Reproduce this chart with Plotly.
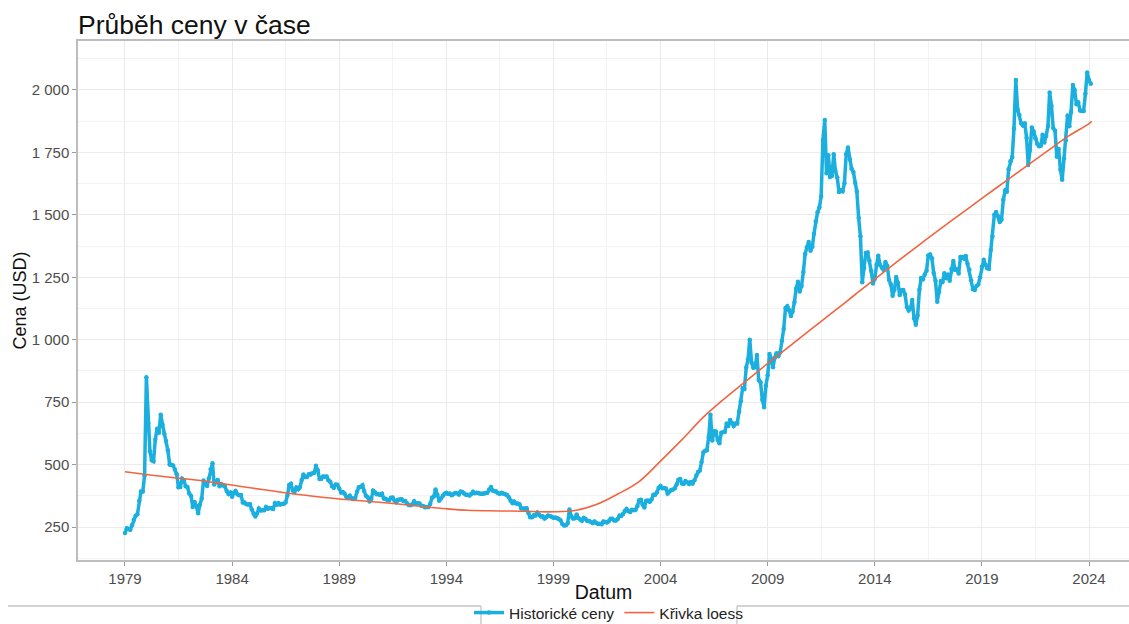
import pandas as pd
import plotly.graph_objects as go

# Monthly gold prices (USD), Jan 1979 .. Feb 2024
ceny = [
    226, 245, 242, 239, 257, 279, 295, 301, 355, 392, 392, 456,   # 1979
    850, 665, 553, 517, 513, 600, 644, 627, 700, 661, 623, 594,   # 1980
    557, 500, 499, 496, 480, 461, 409, 410, 443, 437, 413, 410,   # 1981
    384, 374, 330, 350, 334, 305, 339, 364, 436, 422, 414, 444,   # 1982
    481, 505, 420, 432, 438, 413, 422, 416, 412, 394, 382, 388,   # 1983
    371, 387, 394, 381, 377, 378, 348, 348, 341, 340, 341, 320,   # 1984
    303, 292, 304, 324, 316, 317, 317, 330, 323, 326, 325, 322,   # 1985
    345, 339, 346, 340, 342, 343, 348, 376, 418, 423, 396, 391,   # 1986
    408, 401, 409, 438, 460, 450, 450, 461, 460, 465, 467, 495,   # 1987
    477, 442, 443, 452, 451, 452, 437, 431, 413, 407, 420, 419,   # 1988
    404, 388, 390, 384, 371, 367, 375, 365, 362, 367, 392, 409,   # 1989
    410, 417, 394, 375, 369, 352, 362, 395, 389, 381, 381, 378,   # 1990
    383, 364, 363, 358, 357, 367, 368, 356, 349, 359, 360, 361,   # 1991
    354, 354, 345, 338, 337, 341, 353, 343, 345, 344, 335, 334,   # 1992
    329, 330, 330, 342, 367, 372, 400, 379, 355, 364, 374, 383,   # 1993
    387, 382, 384, 377, 381, 386, 385, 380, 392, 390, 384, 379,   # 1994
    379, 376, 382, 391, 385, 387, 386, 383, 383, 383, 386, 387,   # 1995
    400, 410, 396, 393, 392, 385, 383, 387, 383, 381, 378, 369,   # 1996
    355, 346, 352, 344, 344, 341, 324, 324, 323, 325, 306, 289,   # 1997
    289, 297, 296, 308, 299, 292, 293, 284, 289, 296, 294, 291,   # 1998
    287, 288, 286, 282, 277, 262, 256, 257, 265, 320, 293, 284,   # 1999
    285, 300, 286, 280, 275, 286, 282, 274, 274, 270, 266, 272,   # 2000
    266, 262, 263, 261, 272, 270, 268, 273, 283, 283, 276, 276,   # 2001
    282, 296, 294, 302, 314, 322, 314, 310, 319, 317, 319, 333,   # 2002
    357, 359, 340, 328, 355, 356, 351, 360, 379, 379, 389, 407,   # 2003
    414, 405, 406, 404, 384, 392, 398, 400, 405, 420, 439, 442,   # 2004
    424, 423, 434, 429, 422, 430, 424, 437, 456, 470, 476, 510,   # 2005
    549, 555, 557, 610, 700, 596, 633, 632, 598, 585, 627, 629,   # 2006
    631, 665, 655, 679, 667, 655, 665, 665, 713, 754, 806, 803,   # 2007
    889, 922, 1000, 909, 888, 890, 939, 839, 830, 760, 730, 816,  # 2008
    858, 943, 924, 890, 928, 946, 934, 949, 996, 1043, 1127, 1134,  # 2009
    1118, 1095, 1113, 1149, 1205, 1232, 1193, 1215, 1271, 1343, 1370, 1391,  # 2010
    1356, 1372, 1424, 1474, 1510, 1529, 1573, 1800, 1880, 1666, 1739, 1652,  # 2011
    1656, 1743, 1675, 1649, 1591, 1598, 1594, 1626, 1744, 1770, 1722, 1685,  # 2012
    1671, 1627, 1593, 1487, 1414, 1230, 1286, 1347, 1349, 1316, 1275, 1225,  # 2013
    1244, 1300, 1336, 1299, 1288, 1279, 1311, 1296, 1239, 1222, 1176, 1200,  # 2014
    1251, 1227, 1179, 1198, 1199, 1181, 1131, 1117, 1125, 1159, 1086, 1060,  # 2015
    1097, 1200, 1246, 1242, 1261, 1276, 1337, 1341, 1326, 1267, 1236, 1152,  # 2016
    1192, 1234, 1231, 1266, 1246, 1261, 1236, 1283, 1315, 1280, 1282, 1265,  # 2017
    1331, 1331, 1325, 1335, 1304, 1281, 1238, 1202, 1199, 1215, 1221, 1250,  # 2018
    1292, 1320, 1301, 1286, 1284, 1359, 1413, 1500, 1511, 1495, 1471, 1480,  # 2019
    1560, 1597, 1592, 1683, 1715, 1732, 1846, 2040, 1922, 1900, 1866, 1858,  # 2020
    1867, 1808, 1700, 1760, 1850, 1834, 1807, 1785, 1775, 1777, 1821, 1790,  # 2021
    1816, 1856, 1990, 1937, 1848, 1837, 1733, 1764, 1681, 1640, 1726, 1798,  # 2022
    1898, 1855, 1912, 2020, 2000, 1943, 1951, 1918, 1916, 1916, 1985, 2070,  # 2023
    2040, 2025,                                                               # 2024
]
datumy = pd.date_range("1979-01-01", periods=len(ceny), freq="MS")

# Loess curve at the start of each year
loess_datumy = [f"{r}-01-01" for r in range(1979, 2025)] + ["2024-02-15"]
loess_hodnoty = [
    471, 460, 450, 441, 430, 418, 405, 393, 381, 371,
    362, 355, 348, 340, 331, 323, 317, 315, 314, 312,
    311, 316, 340, 382, 432, 514, 600, 690, 765, 835,
    905, 972, 1040, 1107, 1175, 1243, 1310, 1375, 1440, 1503,
    1566, 1628, 1690, 1752, 1813, 1865, 1875,
]

y_ticks = [250, 500, 750, 1000, 1250, 1500, 1750, 2000]
y_ticktext = ["250", "500", "750", "1 000", "1 250", "1 500", "1 750", "2 000"]
x_ticks = [f"{r}-01-01" for r in range(1979, 2025, 5)]
x_ticktext = [str(r) for r in range(1979, 2025, 5)]

BLUE = "#1aafdf"
ORANGE = "#f26440"
GRID = "#ebebeb"
MINOR = "#f3f3f3"
AXIS = "#bdbdbd"
FONT = "Liberation Sans, Arial, sans-serif"

fig = go.Figure()
fig.add_trace(go.Scatter(
    x=datumy, y=ceny, mode="lines+markers", name="Historické ceny",
    line=dict(color=BLUE, width=3.5),
    marker=dict(color=BLUE, size=4.5),
))
fig.add_trace(go.Scatter(
    x=loess_datumy, y=loess_hodnoty, mode="lines", name="Křivka loess",
    line=dict(color=ORANGE, width=1.6, shape="spline"),
))

W, H = 1129, 624
L, R, T, B = 78, 0, 41, 64
pw, ph = W - L - R, H - T - B

def px(xp):
    return (xp - L) / pw

def py(yp):
    return (H - B - yp) / ph

line_style = dict(color="#c4c4c4", width=1.3)
shapes = [
    dict(type="line", xref="paper", yref="paper", x0=px(8), x1=px(481), y0=py(606), y1=py(606), line=line_style),
    dict(type="line", xref="paper", yref="paper", x0=px(481), x1=px(481), y0=py(606), y1=py(640), line=line_style),
    dict(type="line", xref="paper", yref="paper", x0=px(737), x1=px(737), y0=py(606), y1=py(640), line=line_style),
    dict(type="line", xref="paper", yref="paper", x0=px(737), x1=px(1129), y0=py(606), y1=py(606), line=line_style),
]

fig.update_layout(
    width=W, height=H,
    margin=dict(l=L, r=R, t=T, b=B, pad=0, autoexpand=False),
    paper_bgcolor="white", plot_bgcolor="white",
    font=dict(family=FONT, color="#222222"),
    title=dict(text="Průběh ceny v čase", x=L / W, xanchor="left", xref="container",
               y=1 - 25 / H, yanchor="middle", yref="container",
               font=dict(size=26.5, color="#111111", family=FONT)),
    showlegend=True,
    legend=dict(orientation="h", x=px(609), xanchor="center", y=py(596), yanchor="top",
                font=dict(size=15.5, color="#222222", family=FONT),
                bgcolor="rgba(0,0,0,0)", itemwidth=30, tracegroupgap=0),
    shapes=shapes,
    xaxis=dict(
        type="date", range=["1976-10-22", "2025-11-13"],
        tickmode="array", tickvals=x_ticks, ticktext=x_ticktext,
        showgrid=True, gridcolor=GRID, gridwidth=1,
        minor=dict(showgrid=True, gridcolor=MINOR, gridwidth=1, dtick="M30", tick0="1979-01-01"),
        showline=True, linecolor=AXIS, linewidth=1.5, mirror=True,
        ticks="outside", ticklen=4, tickcolor="#999999",
        tickfont=dict(size=15, color="#4d4d4d", family=FONT),
        title=dict(text="Datum", font=dict(size=19.5, color="#111111", family=FONT), standoff=0),
        zeroline=False, automargin=False,
    ),
    yaxis=dict(
        range=[118, 2196],
        tickmode="array", tickvals=y_ticks, ticktext=y_ticktext,
        showgrid=True, gridcolor=GRID, gridwidth=1,
        minor=dict(showgrid=True, gridcolor=MINOR, gridwidth=1, dtick=125, tick0=0),
        showline=True, linecolor=AXIS, linewidth=1.5,
        ticks="outside", ticklen=4, tickcolor="#999999",
        tickfont=dict(size=15, color="#4d4d4d", family=FONT),
        title=dict(text="Cena (USD)", font=dict(size=18, color="#111111", family=FONT), standoff=0),
        zeroline=False, automargin=False,
    ),
)

fig.write_html("out.html")
